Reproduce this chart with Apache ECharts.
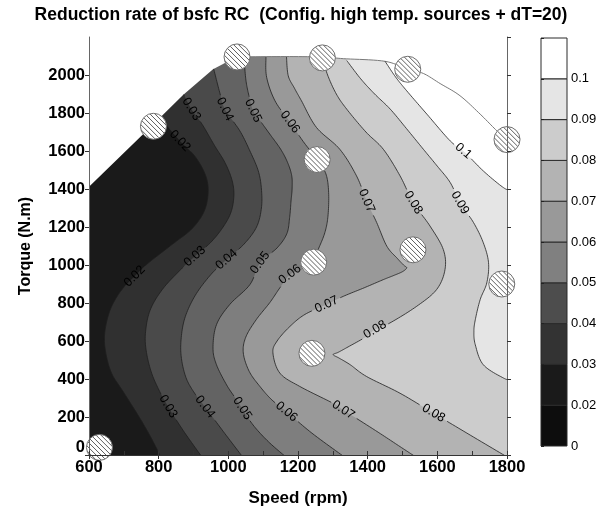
<!DOCTYPE html>
<html>
<head>
<meta charset="utf-8">
<script src="https://cdn.jsdelivr.net/npm/echarts@6/dist/echarts.min.js"></script>
<style>
html,body{margin:0;padding:0;background:#fff;}
#chart{width:605px;height:518px;}
</style>
</head>
<body>
<div id="chart"></div>
<script>
// ---- contour levels, band colours, colour-bar ----
const levels      = [0.02, 0.03, 0.04, 0.05, 0.06, 0.07, 0.08, 0.09, 0.1];
const levelText   = ['0.02','0.03','0.04','0.05','0.06','0.07','0.08','0.09','0.1'];
const bandColors  = ['#1a1a1a','#303030','#4a4a4a','#636363','#7e7e7e','#999999','#b3b3b3','#cccccc','#e5e5e5','#ffffff'];
const barColors   = ['#0d0d0d','#1a1a1a','#333333','#4d4d4d','#808080','#999999','#b3b3b3','#cccccc','#e5e5e5','#ffffff'];
const barLabels   = ['0','0.02','0.03','0.04','0.05','0.06','0.07','0.08','0.09','0.1'];

// ---- measured operating points (speed rpm, torque N.m) ----
const pointSpeed  = [630, 785, 1025, 1270, 1515, 1800, 1255, 1245, 1530, 1785, 1240];
const pointTorque = [40, 1730, 2095, 2090, 2030, 1660, 1555, 1015, 1080, 900, 535];

// ---- envelope of the mapped region ----
const edgeLeft = [[600,0],[600,1412],[784,1740],[870,1895],[956,2030],[1023,2095]];
const edgeTop  = [[1023,2095],[1150,2097],[1270,2095],[1330,2086],[1450,2072],[1517,2028],
                  [1560,2008],[1608,1955],[1665,1891],[1723,1794],[1771,1706],[1800,1660]];

// ---- iso-lines of the reduction rate (speed, torque) ----
const c002 = [[805,1772],[861,1653],[905,1570],[935,1470],[942,1380],[930,1280],[895,1190],[840,1110],
              [770,1010],[731,941],[690,860],[660,760],[645,640],[648,540],[665,430],[698,334],[746,194],[779,88],[806,-10]];
const c003 = [[872,1897],[894,1820],[925,1740],[960,1630],[990,1540],[1010,1450],[1016,1370],[1008,1280],
              [985,1200],[950,1120],[904,1046],[860,970],[810,870],[775,760],[762,640],[765,540],[780,430],
              [803,334],[827,255],[870,130],[924,-10]];
const c004 = [[958,2032],[975,1910],[990,1820],[1033,1706],[1062,1600],[1086,1495],[1095,1400],[1095,1300],
              [1081,1200],[1045,1110],[995,1029],[950,950],[905,840],[875,720],[864,600],[866,500],[880,400],
              [905,320],[933,253],[985,125],[1041,-10]];
const c005 = [[1045,2094],[1050,1980],[1058,1900],[1071,1812],[1095,1750],[1119,1689],[1150,1610],[1170,1540],
              [1182,1470],[1183,1400],[1180,1337],[1176,1250],[1168,1165],[1140,1090],[1091,1012],[1062,897],
              [1004,792],[966,686],[956,563],[966,475],[995,369],[1020,300],[1040,245],[1071,158],[1115,70],[1165,-10]];
const c006 = [[1108,2094],[1110,1988],[1134,1864],[1177,1752],[1215,1650],[1254,1557],[1280,1480],[1288,1381],
              [1286,1257],[1277,1170],[1258,1082],[1240,1010],[1210,975],[1177,950],[1148,880],[1119,802],
              [1080,712],[1050,620],[1043,537],[1060,440],[1091,360],[1125,290],[1167,228],[1240,115],[1333,-10]];
const c007 = [[1167,2094],[1172,1996],[1190,1930],[1210,1864],[1253,1724],[1320,1609],[1368,1469],[1397,1337],
              [1426,1223],[1455,1099],[1485,1035],[1503,1000],[1512,985],[1500,965],[1475,945],[1445,923],
              [1390,880],[1330,835],[1282,792],[1220,740],[1177,677],[1140,600],[1128,538],[1148,431],
              [1205,361],[1301,272],[1330,237],[1430,120],[1493,44],[1538,-10]];
const c008 = [[1270,2092],[1285,2000],[1310,1900],[1340,1820],[1395,1700],[1445,1609],[1493,1469],[1531,1328],
              [1579,1205],[1617,1082],[1622,976],[1598,871],[1541,783],[1464,695],[1421,660],[1397,624],
              [1340,565],[1315,540],[1301,528],[1318,510],[1350,475],[1397,413],[1493,325],[1589,220],
              [1685,115],[1800,-10]];
const c009 = [[1340,2076],[1380,1980],[1420,1900],[1465,1820],[1515,1710],[1560,1609],[1600,1520],[1637,1434],
              [1665,1328],[1704,1223],[1732,1117],[1747,1012],[1742,906],[1723,818],[1709,712],[1705,650],
              [1709,580],[1732,475],[1790,405],[1810,396]];
const c010 = [[1450,2072],[1480,1990],[1512,1917],[1570,1794],[1637,1653],[1675,1600],[1732,1495],[1790,1407],[1810,1395]];
const contours = [c002, c003, c004, c005, c006, c007, c008, c009, c010];

// ---- label anchors along each iso-line ----
const lab002 = [[861,1653],[731,941]];
const lab003 = [[894,1820],[904,1046],[827,255]];
const lab004 = [[990,1820],[995,1029],[933,253]];
const lab005 = [[1071,1812],[1091,1012],[1040,245]];
const lab006 = [[1177,1752],[1177,950],[1167,228]];
const lab007 = [[1397,1337],[1282,792],[1330,237]];
const lab008 = [[1531,1328],[1421,660],[1589,220]];
const lab009 = [[1665,1328]];
const lab010 = [[1675,1600]];
const labelAnchors = [lab002, lab003, lab004, lab005, lab006, lab007, lab008, lab009, lab010];

const FONT = 'Arial, "Liberation Sans", Helvetica, sans-serif';

// Catmull-Rom sampling of a pixel polyline, used to draw the iso-lines smoothly
function smoothPx(px, steps) {
  steps = steps || 10;
  const out = [];
  const n = px.length;
  for (let i = 0; i < n - 1; i++) {
    const p0 = px[Math.max(i - 1, 0)], p1 = px[i], p2 = px[i + 1], p3 = px[Math.min(i + 2, n - 1)];
    for (let k = 0; k < steps; k++) {
      const t = k / steps, t2 = t * t, t3 = t2 * t;
      const f = j => 0.5 * (2 * p1[j] + (-p0[j] + p2[j]) * t +
        (2 * p0[j] - 5 * p1[j] + 4 * p2[j] - p3[j]) * t2 +
        (-p0[j] + 3 * p1[j] - 3 * p2[j] + p3[j]) * t3);
      out.push([f(0), f(1)]);
    }
  }
  out.push(px[n - 1]);
  return out;
}

// closes an iso-line around the higher-value side, far outside the plot
function farSide(c) {
  const s = c[0], e = c[c.length - 1];
  if (e[1] <= 5) return [[e[0], -900], [2800, -900], [2800, 4500], [s[0], 4500]];
  return [[2800, e[1]], [2800, 4500], [s[0], 4500]];
}

function labelWidth(t, size) {
  let w = 0;
  for (const ch of t) w += (ch === '.' ? 0.278 : 0.556);
  return w * size;
}

const chart = echarts.init(document.getElementById('chart'), null, { renderer: 'canvas', width: 605, height: 518 });

const LABEL_SIZE = 12.5;
const TICK_FONT = { fontFamily: FONT, fontSize: 16.5, fontWeight: 'bold', color: '#000' };

const option = {
  animation: false,
  backgroundColor: '#ffffff',
  title: {
    text: 'Reduction rate of bsfc RC  (Config. high temp. sources + dT=20)',
    left: 296, top: 1, textAlign: 'center',
    textStyle: { fontFamily: FONT, fontSize: 17.5, fontWeight: 'bold', color: '#000' }
  },
  grid: [
    { left: 89, top: 37, width: 418, height: 418 },
    { left: 541, top: 38, width: 26, height: 408 }
  ],
  xAxis: [
    {
      gridIndex: 0, type: 'value', min: 600, max: 1800, interval: 200, position: 'bottom', z: 10,
      name: 'Speed (rpm)', nameLocation: 'middle', nameGap: 35,
      nameTextStyle: { fontFamily: FONT, fontSize: 17, fontWeight: 'bold', color: '#000' },
      axisLine: { show: true, lineStyle: { color: '#333', width: 1 } },
      axisTick: { show: true, inside: false, length: 4, lineStyle: { color: '#333' } },
      axisLabel: Object.assign({ margin: 4, formatter: v => String(v) }, TICK_FONT),
      splitLine: { show: false }
    },
    {
      gridIndex: 0, type: 'value', min: 600, max: 1800, interval: 100, position: 'top', z: 10,
      axisLine: { show: true, lineStyle: { color: '#333', width: 1 } },
      axisTick: { show: true, inside: false, length: 4, lineStyle: { color: '#333' } },
      axisLabel: { show: false }, splitLine: { show: false }
    },
    { gridIndex: 1, type: 'value', min: 0, max: 1, show: false }
  ],
  yAxis: [
    {
      gridIndex: 0, type: 'value', min: 0, max: 2200, interval: 200, position: 'left', z: 10,
      name: 'Torque (N.m)', nameLocation: 'middle', nameGap: 55, nameRotate: 90,
      nameTextStyle: { fontFamily: FONT, fontSize: 16, fontWeight: 'bold', color: '#000' },
      axisLine: { show: true, lineStyle: { color: '#666', width: 1 } },
      axisTick: { show: true, inside: false, length: 4, lineStyle: { color: '#333' } },
      axisLabel: Object.assign({
        margin: 4, showMaxLabel: false,
        formatter: v => (v === 0 ? '{lift|0}' : String(v)),
        rich: { lift: Object.assign({ padding: [0, 0, 16, 0] }, TICK_FONT) }
      }, TICK_FONT),
      splitLine: { show: false }
    },
    {
      gridIndex: 0, type: 'value', min: 0, max: 2200, interval: 200, position: 'right', z: 10,
      axisLine: { show: true, lineStyle: { color: '#666', width: 1 } },
      axisTick: { show: true, inside: false, length: 4, lineStyle: { color: '#333' } },
      axisLabel: { show: false }, splitLine: { show: false }
    },
    {
      gridIndex: 1, type: 'value', min: 0, max: 10, interval: 1, position: 'right', z: 10,
      axisLine: { show: false },
      axisTick: { show: true, inside: false, length: 3, lineStyle: { color: '#222' } },
      axisLabel: {
        fontFamily: FONT, fontSize: 13, color: '#000', margin: 4,
        formatter: v => (barLabels[v] !== undefined ? barLabels[v] : '')
      },
      splitLine: { show: false }
    }
  ],
  series: [
    // filled bands: base colour, then each level's upper side painted over it
    {
      type: 'custom', xAxisIndex: 0, yAxisIndex: 0, clip: true, silent: true, z: 1,
      data: bandColors.map((c, i) => [600, 0, i]),
      encode: { x: 0, y: 1 },
      renderItem: function (params, api) {
        const i = params.dataIndex;
        let pts;
        if (i === 0) {
          pts = [[500, -500], [2000, -500], [2000, 3000], [500, 3000]].map(p => api.coord(p));
        } else {
          const c = contours[i - 1];
          pts = smoothPx(c.map(p => api.coord(p))).concat(farSide(c).map(p => api.coord(p)));
        }
        return { type: 'polygon', shape: { points: pts }, style: { fill: bandColors[i], stroke: null } };
      }
    },
    // white outside the mapped envelope, with its upper rim
    {
      type: 'custom', xAxisIndex: 0, yAxisIndex: 0, clip: true, silent: true, z: 2,
      data: [[600, 0]], encode: { x: 0, y: 1 },
      renderItem: function (params, api) {
        const left = edgeLeft.slice(1).map(p => api.coord(p));
        const top = smoothPx(edgeTop.map(p => api.coord(p)));
        const far = [[2800, 1660], [2800, 4500], [300, 4500], [300, 1412]].map(p => api.coord(p));
        return {
          type: 'group', children: [
            { type: 'polygon', shape: { points: left.concat(top, far) }, style: { fill: '#ffffff', stroke: null } },
            { type: 'polyline', shape: { points: top }, style: { fill: null, stroke: '#7a7a7a', lineWidth: 1 } }
          ]
        };
      }
    },
    // iso-lines with their in-line labels
    {
      type: 'custom', xAxisIndex: 0, yAxisIndex: 0, clip: true, silent: true, z: 3,
      data: levels.map(l => [600, 0]), encode: { x: 0, y: 1 },
      renderItem: function (params, api) {
        const i = params.dataIndex;
        const pts = smoothPx(contours[i].map(p => api.coord(p)), 12);
        const s = [0];
        for (let k = 1; k < pts.length; k++) {
          s.push(s[k - 1] + Math.hypot(pts[k][0] - pts[k - 1][0], pts[k][1] - pts[k - 1][1]));
        }
        const w = labelWidth(levelText[i], LABEL_SIZE);
        const children = [];
        const gaps = [];
        labelAnchors[i].forEach(a => {
          const ap = api.coord(a);
          let best = 0, bd = Infinity;
          pts.forEach((p, k) => { const d = Math.hypot(p[0] - ap[0], p[1] - ap[1]); if (d < bd) { bd = d; best = k; } });
          const sc = s[best];
          gaps.push([sc - w / 2 - 2, sc + w / 2 + 2]);
          let ka = best, kb = best;
          while (ka > 0 && s[ka] > sc - w / 2) ka--;
          while (kb < pts.length - 1 && s[kb] < sc + w / 2) kb++;
          let ang = Math.atan2(pts[kb][1] - pts[ka][1], pts[kb][0] - pts[ka][0]);
          if (ang > Math.PI / 2) ang -= Math.PI;
          if (ang < -Math.PI / 2) ang += Math.PI;
          children.push({
            type: 'text', x: pts[best][0], y: pts[best][1], rotation: -ang,
            style: { text: levelText[i], fill: '#000', font: LABEL_SIZE + 'px ' + FONT, align: 'center', verticalAlign: 'middle' }
          });
        });
        let run = [];
        const flush = () => { if (run.length > 1) children.push({ type: 'polyline', shape: { points: run }, style: { fill: null, stroke: '#1e1e1e', lineWidth: 0.8 } }); run = []; };
        pts.forEach((p, k) => {
          const hidden = gaps.some(g => s[k] > g[0] && s[k] < g[1]);
          if (hidden) flush(); else run.push(p);
        });
        flush();
        return { type: 'group', children: children };
      }
    },
    // operating points: hatched discs
    {
      type: 'custom', xAxisIndex: 0, yAxisIndex: 0, clip: false, silent: true, z: 5,
      data: pointSpeed.map((x, k) => [x, pointTorque[k]]), encode: { x: 0, y: 1 },
      renderItem: function (params, api) {
        const c = api.coord([api.value(0), api.value(1)]);
        const r = 13, step = 3.5;
        const u = [Math.SQRT1_2, Math.SQRT1_2], n = [Math.SQRT1_2, -Math.SQRT1_2];
        const children = [{ type: 'circle', shape: { cx: c[0], cy: c[1], r: r }, style: { fill: '#ffffff', stroke: null } }];
        for (let d = -r + step / 2; d < r; d += step) {
          const h = Math.sqrt(Math.max(r * r - d * d, 0)) - 0.4;
          if (h <= 0) continue;
          const mx = c[0] + d * n[0], my = c[1] + d * n[1];
          children.push({
            type: 'line',
            shape: { x1: mx - h * u[0], y1: my - h * u[1], x2: mx + h * u[0], y2: my + h * u[1] },
            style: { stroke: '#4d4d4d', lineWidth: 0.9 }
          });
        }
        children.push({ type: 'circle', shape: { cx: c[0], cy: c[1], r: r }, style: { fill: null, stroke: '#6e6e6e', lineWidth: 1 } });
        return { type: 'group', children: children };
      }
    },
    // colour bar
    {
      type: 'custom', xAxisIndex: 2, yAxisIndex: 2, silent: true, z: 3,
      data: barColors.map((c, i) => [0, i]), encode: { x: 0, y: 1 },
      renderItem: function (params, api) {
        const i = params.dataIndex;
        const a = api.coord([0, i]), b = api.coord([1, i + 1]);
        return {
          type: 'rect',
          shape: { x: a[0], y: b[1], width: b[0] - a[0], height: a[1] - b[1] },
          style: { fill: barColors[i], stroke: '#2a2a2a', lineWidth: 1 }
        };
      }
    }
  ]
};

chart.setOption(option);
</script>
</body>
</html>
